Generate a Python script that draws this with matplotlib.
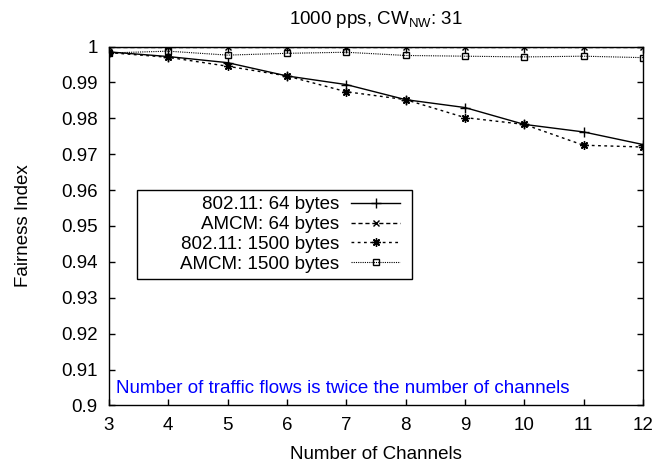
import matplotlib
matplotlib.use("Agg")
import matplotlib.pyplot as plt
from matplotlib.patches import Rectangle

plt.rcParams['font.family'] = ['Liberation Sans', 'DejaVu Sans']

channels = [3, 4, 5, 6, 7, 8, 9, 10, 11, 12]
dot11_64 = [0.9985, 0.9972, 0.9955, 0.9918, 0.9894, 0.9852, 0.9830, 0.9783, 0.9762, 0.9727]
amcm_64 = [1.0, 1.0, 1.0, 1.0, 1.0, 1.0, 1.0, 1.0, 1.0, 1.0]
dot11_1500 = [0.9983, 0.9970, 0.9945, 0.9918, 0.9874, 0.9852, 0.9802, 0.9783, 0.9725, 0.9720]
amcm_1500 = [0.9982, 0.9987, 0.9976, 0.9981, 0.9984, 0.9975, 0.9973, 0.9971, 0.9973, 0.9969]

yticks = [0.9, 0.91, 0.92, 0.93, 0.94, 0.95, 0.96, 0.97, 0.98, 0.99, 1]
ytick_labels = ['0.9', '0.91', '0.92', '0.93', '0.94', '0.95', '0.96', '0.97', '0.98', '0.99', '1']

fs = 13.5

fig = plt.figure(figsize=(6.56, 4.65), dpi=100)
ax = fig.add_axes([0.166, 0.128, 0.814, 0.772])

ax.plot(channels, dot11_64, color='black', lw=1, ls='-', marker='+', ms=6.5, mew=1,
        label='802.11: 64 bytes')
ax.plot(channels, amcm_64, color='black', lw=1, ls=(0, (3, 2)), marker='x', ms=4.5, mew=1,
        label='AMCM: 64 bytes')
ax.plot(channels, dot11_1500, color='black', lw=1, ls=(0, (2, 2.5)), marker=(8, 2, 0),
        ms=6, mew=1, label='802.11: 1500 bytes')
ax.plot(channels, amcm_1500, color='black', lw=0.8, ls=(0, (1, 1)), marker='s', ms=5,
        mfc='none', mew=1, label='AMCM: 1500 bytes')

ax.set_xlim(3, 12)
ax.set_ylim(0.9, 1.0)
ax.set_xticks(channels)
ax.set_yticks(yticks)
ax.set_yticklabels(ytick_labels)
ax.tick_params(direction='in', length=4, width=1, top=True, right=True,
               labelsize=fs, pad=8)
for s in ax.spines.values():
    s.set_linewidth(1)

ax.set_title('1000 pps, CW$_{\\mathregular{NW}}$: 31', fontsize=fs, pad=16)
ax.set_xlabel('Number of Channels', fontsize=fs, labelpad=9)
ax.set_ylabel('Fairness Index', fontsize=fs, labelpad=21)

ax.text(3.12, 0.9034, 'Number of traffic flows is twice the number of channels',
        color='blue', fontsize=fs, ha='left', va='baseline')

# legend entries right-aligned with samples on the right, inside a wide box
leg = ax.legend(loc='upper right', bbox_to_anchor=(0.545, 0.583), borderaxespad=0,
                markerfirst=False, fontsize=fs, handlelength=2.6, handletextpad=0.65,
                labelspacing=0.14, borderpad=0, frameon=False)
for col in leg._legend_handle_box.get_children():
    col.align = 'right'
ax.add_patch(Rectangle((0.0524, 0.352), 0.5146, 0.248, transform=ax.transAxes,
                       facecolor='white', edgecolor='black', lw=1, zorder=4))
leg.set_zorder(5)

fig.savefig('out.png', dpi=100)
